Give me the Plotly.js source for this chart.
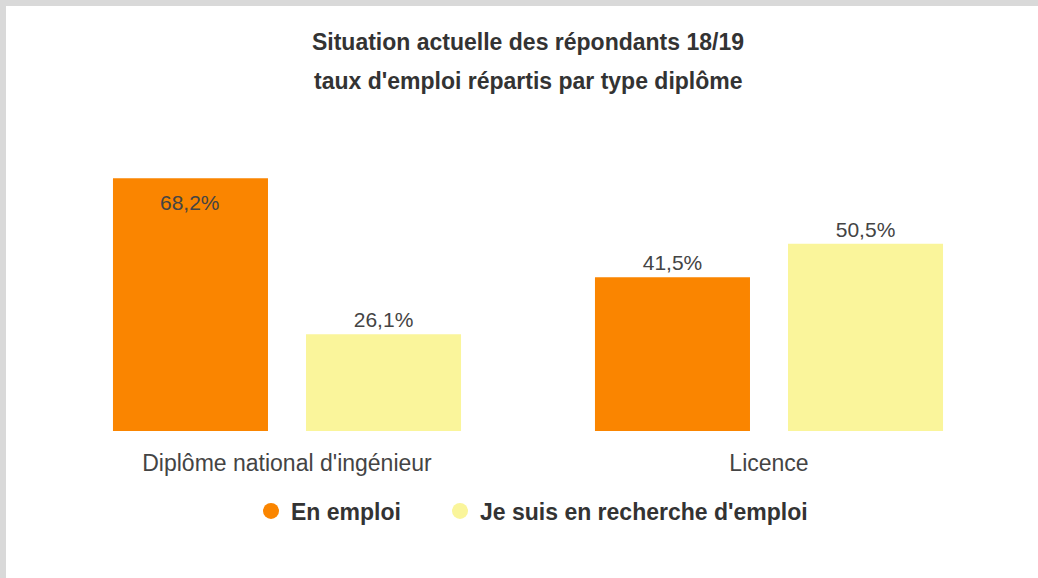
<!DOCTYPE html>
<html>
<head>
<meta charset="utf-8">
<script src="https://cdn.plot.ly/plotly-3.0.1.min.js"></script>
<style>
  html, body { margin: 0; padding: 0; background: #d9d9d9; width: 1038px; height: 578px; overflow: hidden; }
  #chart { position: absolute; left: 6px; top: 6px; width: 1032px; height: 572px; background: #fff; }
</style>
</head>
<body>
<div id="chart"></div>
<script>
const categories = ["Diplôme national d'ingénieur", "Licence"];
const seriesNames = ["En emploi", "Je suis en recherche d'emploi"];
const enEmploi = [68.2, 41.5];
const enRecherche = [26.1, 50.5];
const titleLine1 = "Situation actuelle des répondants 18/19";
const titleLine2 = "taux d'emploi répartis par type diplôme";

const colors = ["#fa8500", "#faf59b"];
const fontFam = "Liberation Sans, Arial, sans-serif";
const txtColor = "#444444";
const bargap = 0.199;

function fmt(v) { return v.toFixed(1).replace('.', ',') + '%'; }

// label of the tallest bar is drawn inside the bar, near its top
const insideIdx = 0;
const slot = (1 - bargap) / 2;
const trace0Offset = -(1 - bargap) / 2 + 0.5 * slot;

const traces = [
  {
    type: 'bar', x: categories, y: enEmploi, name: seriesNames[0],
    marker: { color: colors[0] }, showlegend: false,
    text: enEmploi.map(fmt), textposition: enEmploi.map((v, i) => i === insideIdx ? 'none' : 'outside'),
    constraintext: 'none', cliponaxis: false,
    textfont: { family: fontFam, size: 21, color: txtColor },
    hoverinfo: 'x+y'
  },
  {
    type: 'bar', x: categories, y: enRecherche, name: seriesNames[1],
    marker: { color: colors[1] }, showlegend: false,
    text: enRecherche.map(fmt), textposition: 'outside', constraintext: 'none', cliponaxis: false,
    textfont: { family: fontFam, size: 21, color: txtColor },
    hoverinfo: 'x+y'
  },
  {
    type: 'scatter', mode: 'markers', x: [null], y: [null], name: seriesNames[0],
    marker: { color: colors[0], size: 22, symbol: 'circle' }, showlegend: true, legend: 'legend'
  },
  {
    type: 'scatter', mode: 'markers', x: [null], y: [null], name: seriesNames[1],
    marker: { color: colors[1], size: 22, symbol: 'circle' }, showlegend: true, legend: 'legend2'
  }
];

const legendFont = { family: fontFam, size: 23, color: '#333333', weight: 'bold' };
const legendY = -(505 - 425) / 278;

const layout = {
  width: 1032, height: 572,
  margin: { l: 40, r: 28, t: 147, b: 147 },
  paper_bgcolor: '#ffffff', plot_bgcolor: '#ffffff',
  font: { family: fontFam, color: txtColor },
  barmode: 'group', bargap: bargap, bargroupgap: 0.197,
  title: {
    text: '<b>' + titleLine1 + '</b>',
    font: { family: fontFam, size: 23, color: '#333333' },
    x: 0.5, xanchor: 'center', xref: 'paper',
    y: 1 - 36 / 572, yanchor: 'middle', yref: 'container'
  },
  annotations: [
    {
      text: '<b>' + titleLine2 + '</b>',
      xref: 'paper', yref: 'paper', x: 0.5, y: 1 + (147 - 75) / 278,
      xanchor: 'center', yanchor: 'middle', showarrow: false,
      font: { family: fontFam, size: 23, color: '#333333' }
    },
    {
      text: fmt(enEmploi[insideIdx]),
      xref: 'x', yref: 'y', x: insideIdx + trace0Offset, y: enEmploi[insideIdx],
      xanchor: 'center', yanchor: 'middle', yshift: -24, showarrow: false,
      font: { family: fontFam, size: 21, color: txtColor }
    }
  ],
  xaxis: {
    type: 'category', range: [-0.5, 1.5], showgrid: false, zeroline: false,
    showline: false, ticks: '', ticklabelstandoff: 16,
    tickfont: { family: fontFam, size: 23, color: txtColor }, fixedrange: true
  },
  yaxis: {
    range: [0, 75], visible: false, showgrid: false, zeroline: false, fixedrange: true
  },
  legend: {
    orientation: 'h', x: (245 - 40) / 964, xanchor: 'left', y: legendY, yanchor: 'middle',
    font: legendFont, itemsizing: 'trace', itemclick: false
  },
  legend2: {
    orientation: 'h', x: (434 - 40) / 964, xanchor: 'left', y: legendY, yanchor: 'middle',
    font: legendFont, itemsizing: 'trace', itemclick: false
  },
  showlegend: true
};

Plotly.newPlot('chart', traces, layout, { displayModeBar: false });
</script>
</body>
</html>
